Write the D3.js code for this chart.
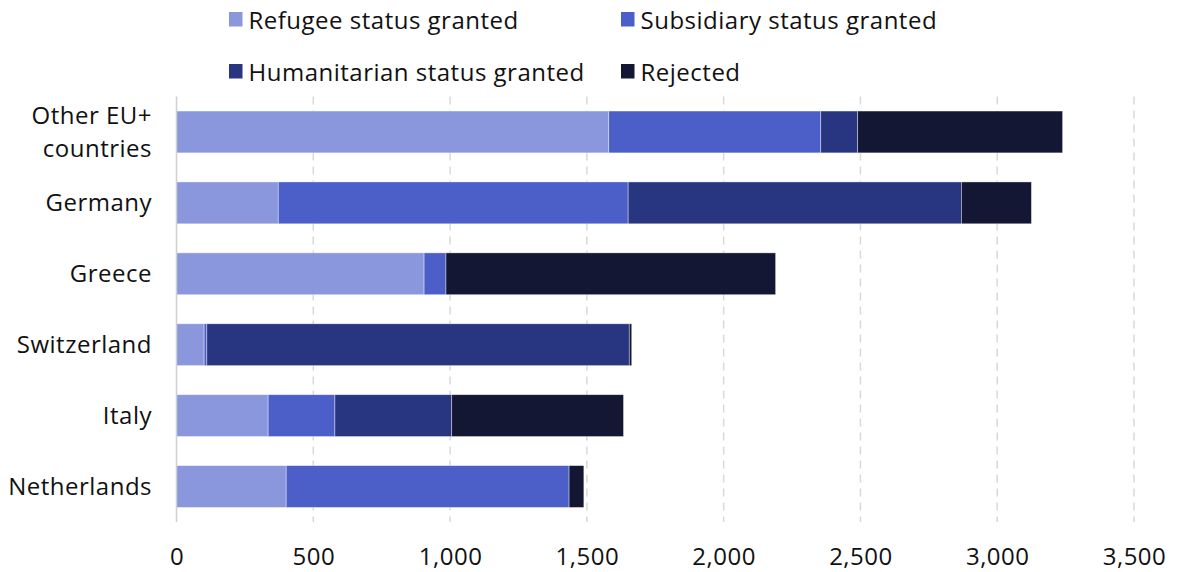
<!DOCTYPE html>
<html>
<head>
<meta charset="utf-8">
<script src="https://cdn.jsdelivr.net/npm/d3@7"></script>
<style>
  html, body { margin: 0; padding: 0; background: #ffffff; }
  svg { display: block; }
  text { font-family: "Open Sans", "Noto Sans", sans-serif; fill: #111111; letter-spacing: 0.5px; }
</style>
</head>
<body>
<svg id="chart" width="1178" height="572"></svg>
<script>
// Asylum decisions by destination, stacked by outcome
const countries = ["Other EU+\ncountries", "Germany", "Greece", "Switzerland", "Italy", "Netherlands"];
const seriesNames = ["Refugee status granted", "Subsidiary status granted", "Humanitarian status granted", "Rejected"];
const refugee      = [1580, 372, 905, 101, 335, 401];
const subsidiary   = [775, 1279, 80, 10, 244, 1034];
const humanitarian = [135, 1218, 0, 1544, 427, 0];
const rejected     = [749, 256, 1205, 9, 628, 54];
const xTicks = [0, 500, 1000, 1500, 2000, 2500, 3000, 3500];
const colors = ["#8a97dc", "#4c5fc9", "#283580", "#131733"];

const FONT_SIZE = "24px";

const rows = countries.map((c, i) => ({
  country: c,
  "Refugee status granted": refugee[i],
  "Subsidiary status granted": subsidiary[i],
  "Humanitarian status granted": humanitarian[i],
  "Rejected": rejected[i]
}));

const svg = d3.select("#chart");
const margin = { left: 176.5, right: 44, top: 96.5, bottom: 50 };
const W = 1178, H = 572;

const x = d3.scaleLinear().domain([0, 3500]).range([margin.left, W - margin.right]);
const y = d3.scaleBand().domain(countries).range([margin.top, H - margin.bottom])
  .paddingInner(0.41).paddingOuter(0.205);
const color = d3.scaleOrdinal().domain(seriesNames).range(colors);

// Dashed vertical gridlines
svg.append("g")
  .selectAll("line")
  .data(xTicks.filter(d => d > 0))
  .join("line")
  .attr("x1", d => x(d)).attr("x2", d => x(d))
  .attr("y1", margin.top).attr("y2", H - margin.bottom)
  .attr("stroke", "#d9d9d9")
  .attr("stroke-width", 1.5)
  .attr("stroke-dasharray", "8,6");

// Stacked bars
const stack = d3.stack().keys(seriesNames)(rows);
svg.append("g")
  .selectAll("g")
  .data(stack)
  .join("g")
  .attr("fill", d => color(d.key))
  .selectAll("rect")
  .data(d => d)
  .join("rect")
  .attr("x", d => x(d[0]))
  .attr("y", d => y(d.data.country))
  .attr("width", d => Math.max(0, x(d[1]) - x(d[0])))
  .attr("height", y.bandwidth())
  .attr("stroke", "#ffffff")
  .attr("stroke-opacity", 0.55)
  .attr("stroke-width", d => (d[1] - d[0]) > 0 ? 0.7 : 0);

// Zero baseline
svg.append("line")
  .attr("x1", x(0)).attr("x2", x(0))
  .attr("y1", margin.top).attr("y2", H - margin.bottom)
  .attr("stroke", "#d0d0d0")
  .attr("stroke-width", 1.5);

// X axis labels
const xAxis = d3.axisBottom(x).tickValues(xTicks).tickSize(0).tickPadding(0)
  .tickFormat(d3.format(","));
const gx = svg.append("g").attr("transform", `translate(0,${H - margin.bottom})`).call(xAxis);
gx.select(".domain").remove();
gx.selectAll("text")
  .attr("y", 43)
  .attr("dy", null)
  .style("font-size", FONT_SIZE)
  .style("font-family", "'Open Sans', 'Noto Sans', sans-serif")
  .attr("fill", "#111111");

// Category labels (may span two lines)
const yLabels = svg.append("g");
countries.forEach(c => {
  const lines = c.split("\n");
  const lh = 32.5;
  const cy = y(c) + y.bandwidth() / 2;
  const t = yLabels.append("text")
    .attr("text-anchor", "end")
    .style("font-size", FONT_SIZE);
  lines.forEach((ln, j) => {
    t.append("tspan")
      .attr("x", 152)
      .attr("y", cy + (j - (lines.length - 1) / 2) * lh + 8.5)
      .text(ln);
  });
});

// Legend
const legendPos = [
  { x: 229, y: 12 }, { x: 621, y: 12 },
  { x: 229, y: 64 }, { x: 621, y: 64 }
];
const lg = svg.append("g")
  .selectAll("g")
  .data(seriesNames)
  .join("g")
  .attr("transform", (d, i) => `translate(${legendPos[i].x},${legendPos[i].y})`);
lg.append("rect")
  .attr("width", 13.5).attr("height", 14.5)
  .attr("fill", d => color(d));
lg.append("text")
  .attr("x", 19.5).attr("y", 16.5)
  .style("font-size", FONT_SIZE)
  .text(d => d);
</script>
</body>
</html>
